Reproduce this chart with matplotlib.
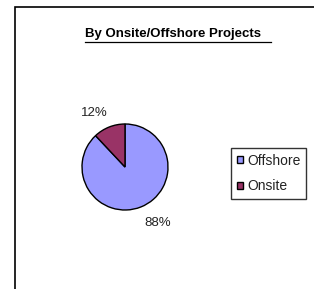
import matplotlib
matplotlib.use("Agg")
import matplotlib.pyplot as plt
from matplotlib.patches import Rectangle
from matplotlib.lines import Line2D

labels = ["Offshore", "Onsite"]
values = [88, 12]
colors = ["#9999FF", "#993366"]
title = "By Onsite/Offshore Projects"

plt.rcParams['font.family'] = ['Liberation Sans', 'DejaVu Sans']

W, H = 314, 289
fig = plt.figure(figsize=(W / 100, H / 100), dpi=100)
fig.patch.set_facecolor("white")

# outer frame (extends past right/bottom edges)
fig.patches.append(Rectangle((15 / W, -0.1), 1.2, 1 - 7 / H + 0.1, transform=fig.transFigure,
                             fill=False, edgecolor="black", linewidth=1.2))

# pie axes: center (125,167), radius 43
r = 43
cx, cy = 125, 167
ax = fig.add_axes([(cx - r) / W, 1 - (cy + r) / H, 2 * r / W, 2 * r / H])
wedges, _ = ax.pie(values, colors=colors, startangle=90, counterclock=False,
                   wedgeprops=dict(edgecolor="black", linewidth=1.0))
ax.set_aspect("equal")
ax.set_xlim(-1, 1)
ax.set_ylim(-1, 1)
ax.axis("off")

# percentage labels
fig.text(94 / W, 1 - 112.5 / H, f"{values[1]}%", ha="center", va="center", fontsize=9.5, color="#222222")
fig.text(158 / W, 1 - 223 / H, f"{values[0]}%", ha="center", va="center", fontsize=9.5, color="#222222")

# title with underline
fig.text(85 / W, 1 - 34.5 / H, title, ha="left", va="center", fontsize=9.5, fontweight="bold")
fig.add_artist(Line2D([85 / W, 271 / W], [1 - 41.7 / H, 1 - 41.7 / H], transform=fig.transFigure,
                      color="black", linewidth=0.9))

# legend
leg = fig.legend(wedges, labels, loc="upper left", bbox_to_anchor=(231 / W, 1 - 148 / H),
                 frameon=True, fancybox=False, fontsize=10, handlelength=0.45, handleheight=0.45,
                 handletextpad=0.3, borderpad=0.4, labelspacing=0.85, borderaxespad=0)
leg.get_frame().set_edgecolor("black")
leg.get_frame().set_linewidth(1.0)
for t in leg.get_texts():
    t.set_color("#222222")

fig.savefig("out.png", dpi=100, facecolor="white")
